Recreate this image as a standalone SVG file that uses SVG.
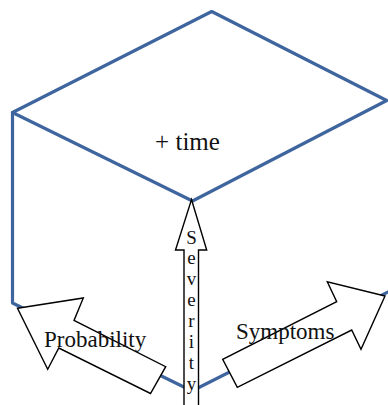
<svg xmlns="http://www.w3.org/2000/svg" width="388" height="405" viewBox="0 0 388 405">
  <style>
    .edge { fill: none; stroke: #3f659f; stroke-width: 3.2; stroke-linejoin: round; stroke-linecap: round; }
    .arrow { fill: #ffffff; stroke: #000000; stroke-width: 1.4; stroke-linejoin: miter; }
    .lbl { font-family: "Liberation Serif", "Times New Roman", serif; fill: #111111; }
  </style>
  <rect width="388" height="405" fill="#ffffff"/>
  <g id="cube">
    <polygon class="edge" points="211.7,11.5 386.7,100.5 192.5,201 12.5,112.5"/>
    <polyline class="edge" points="12.5,112.5 12.5,303 192,391 389,291.5"/>
  </g>
  <g id="label-time">
    <text class="lbl" x="187.5" y="149.5" font-size="25" text-anchor="middle">+ time</text>
  </g>
  <g id="connectors">
    <g id="arrow-severity">
      <polygon class="arrow" points="191.5,199.5 206.7,250 198.5,250 198.5,410 184,410 184,250 175.5,250"/>
      <g class="lbl" font-size="19" text-anchor="middle">
        <text x="191.5" y="243.5">S</text>
        <text x="191.5" y="264">e</text>
        <text x="191.5" y="285">v</text>
        <text x="191.5" y="306">e</text>
        <text x="191.5" y="327">r</text>
        <text x="191.5" y="348">i</text>
        <text x="191.5" y="369">t</text>
        <text x="191.5" y="390">y</text>
      </g>
    </g>
    <g id="arrow-probability">
      <polygon class="arrow" points="17.5,308.3 83.3,298 74,320.5 165.7,366.7 150.5,393.5 58.8,348 47.7,369.2"/>
      <text class="lbl" x="44" y="346.7" font-size="23">Probability</text>
    </g>
    <g id="arrow-symptoms">
      <polygon class="arrow" points="385,296 327.3,281.7 336.7,301.7 222.7,359.3 237.3,387.3 351.7,330 361,349.3"/>
      <text class="lbl" x="236" y="339" font-size="23">Symptoms</text>
    </g>
  </g>
</svg>
